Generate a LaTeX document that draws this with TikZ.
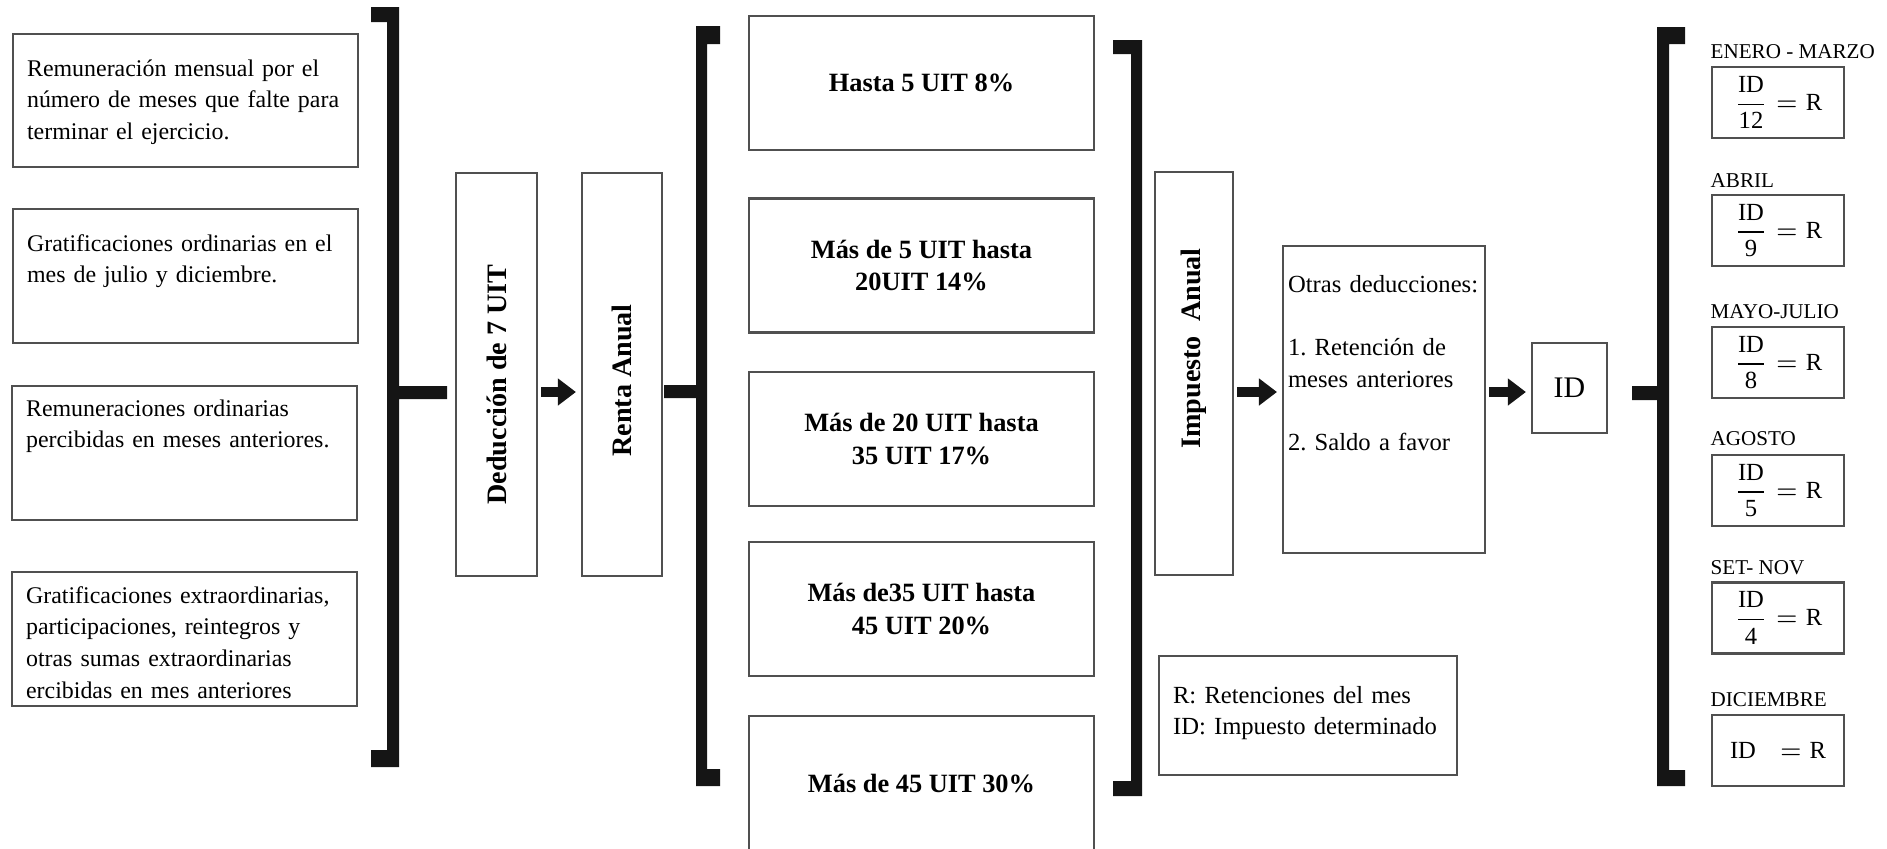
\documentclass[tikz,border=0pt]{standalone}
\usepackage{amsmath}
\usepackage{fontspec}
\setmainfont{Liberation Serif}
\usetikzlibrary{arrows.meta}
\definecolor{FrameGray}{HTML}{505050}
\definecolor{BarBlack}{HTML}{151515}
\frenchspacing

\begin{document}
\begin{tikzpicture}[x=0.01cm,y=-0.01cm,
  box/.style={draw=FrameGray,line width=0.6pt,inner sep=0pt},
  srcbox/.style={box,anchor=north west,text width=3.17cm,inner xsep=0.14cm,align=left,font=\fontsize{6.8}{9}\selectfont},
  ratebox/.style={box,minimum width=3.45cm,minimum height=1.34cm,align=center,font=\fontsize{7.5}{9.2}\selectfont\bfseries},
  stagebox/.style={box,minimum height=4.02cm,font=\fontsize{8}{9}\selectfont\bfseries},
  monthbox/.style={box,minimum width=1.32cm,minimum height=0.71cm,font=\fontsize{7}{9}\selectfont},
  monthlabel/.style={anchor=base west,inner sep=0pt,font=\fontsize{6}{7}\selectfont},
  bar/.style={fill=BarBlack},
  arr/.style={draw=BarBlack,line width=0.1cm,-{Triangle[length=0.18cm,width=0.26cm]},shorten <=0.03cm,shorten >=0.05cm}]
  \useasboundingbox (0,0) rectangle (1887,848); \clip (0,0) rectangle (1887,848);
  \coordinate (axis) at (0,392);

  \node[srcbox,text height=0.42cm,text depth=0.91cm] (rem) at (12,33) {Remuneración mensual por el\\número de meses que falte para\\terminar el ejercicio.};
  \node[srcbox,text height=0.42cm,text depth=0.92cm] (grat) at (12,208) {Gratificaciones ordinarias en el\\mes de julio y diciembre.};
  \node[srcbox,text height=0.30cm,text depth=1.04cm] (remant) at (11,385) {Remuneraciones ordinarias\\percibidas en meses anteriores.};
  \node[srcbox,text height=0.31cm,text depth=1.03cm] (gratext) at (11,571) {Gratificaciones extraordinarias,\\participaciones, reintegros y\\otras sumas extraordinarias\\ercibidas en mes anteriores};
  \fill[bar] (371,7) rectangle (399,22) (387,7) rectangle (399,767) (371,750) rectangle (399,767) (399,386) rectangle (447,399);

  \node[stagebox,minimum width=0.81cm] (ded) at (496.5,374.5) {\rotatebox{90}{Deducción de 7 UIT\hspace*{0.2cm}}};
  \node[stagebox,minimum width=0.80cm] (renta) at (622,374.5) {\rotatebox{90}{Renta Anual\hspace*{0.12cm}}};
  \draw[arr] (ded.east |- axis) -- (renta.west |- axis);
  \fill[bar] (696,26) rectangle (720,44) (696,26) rectangle (707,786) (696,769) rectangle (720,786) (664,385) rectangle (696,398);

  \node[ratebox] (r5) at (921.5,83) {Hasta 5 UIT 8\%};
  \node[ratebox] (r20) at (921.5,265.5) {Más de 5 UIT hasta\\20UIT 14\%};
  \node[ratebox] (r35) at (921.5,439) {Más de 20 UIT hasta\\35 UIT 17\%};
  \node[ratebox] (r45) at (921.5,609) {Más de35 UIT hasta\\45 UIT 20\%};
  \node[ratebox] (r99) at (921.5,783) {Más de 45 UIT 30\%};
  \fill[bar] (1113,40) rectangle (1142,54) (1131,40) rectangle (1142,796) (1113,781) rectangle (1142,796);

  \node[stagebox,minimum width=0.78cm] (imp) at (1194,373.5) {\rotatebox{90}{\hspace*{0.5cm}Impuesto\ \ Anual}};
  \node[box,anchor=north west,text width=1.92cm,inner xsep=0.05cm,align=left,font=\fontsize{7}{9}\selectfont,text height=0.46cm,text depth=2.61cm] (otras) at (1282,245) {Otras deducciones:\\[9pt]1. Retención de\\meses anteriores\\[9pt]2. Saldo a favor};
  \node[box,minimum width=0.75cm,minimum height=0.90cm,font=\fontsize{8.5}{10}\selectfont] (id) at (1569.5,388) {ID};
  \draw[arr] (imp.east |- axis) -- (otras.west |- axis);
  \draw[arr] (otras.east |- axis) -- (id.west |- axis);
  \node[box,anchor=north west,text width=2.70cm,inner xsep=0.14cm,align=left,font=\fontsize{7}{9}\selectfont,text height=0.47cm,text depth=0.72cm] (legend) at (1158,655) {R: Retenciones del mes\\ID: Impuesto determinado};
  \fill[bar] (1657,27) rectangle (1685,44) (1657,27) rectangle (1669,786) (1657,770) rectangle (1685,786) (1632,386) rectangle (1657,400);

  \node[monthlabel] (eneT) at (1710,58) {ENERO - MARZO}; \node[monthbox] (ene) at (1778,102.5) {$\dfrac{\textrm{ID}}{\textrm{12}}=\textrm{R}$};
  \node[monthlabel] (abrT) at (1710,187) {ABRIL}; \node[monthbox] (abr) at (1778,230.5) {$\dfrac{\textrm{ID}}{\textrm{9}}=\textrm{R}$};
  \node[monthlabel] (mayT) at (1710,318) {MAYO-JULIO}; \node[monthbox] (may) at (1778,362.5) {$\dfrac{\textrm{ID}}{\textrm{8}}=\textrm{R}$};
  \node[monthlabel] (agoT) at (1710,445) {AGOSTO}; \node[monthbox] (ago) at (1778,490.5) {$\dfrac{\textrm{ID}}{\textrm{5}}=\textrm{R}$};
  \node[monthlabel] (setT) at (1710,574) {SET- NOV}; \node[monthbox] (set) at (1778,618) {$\dfrac{\textrm{ID}}{\textrm{4}}=\textrm{R}$};
  \node[monthlabel] (dicT) at (1710,706) {DICIEMBRE}; \node[monthbox] (dic) at (1778,750.5) {$\textrm{ID}\;\;=\textrm{R}$};
\end{tikzpicture}
\end{document}
